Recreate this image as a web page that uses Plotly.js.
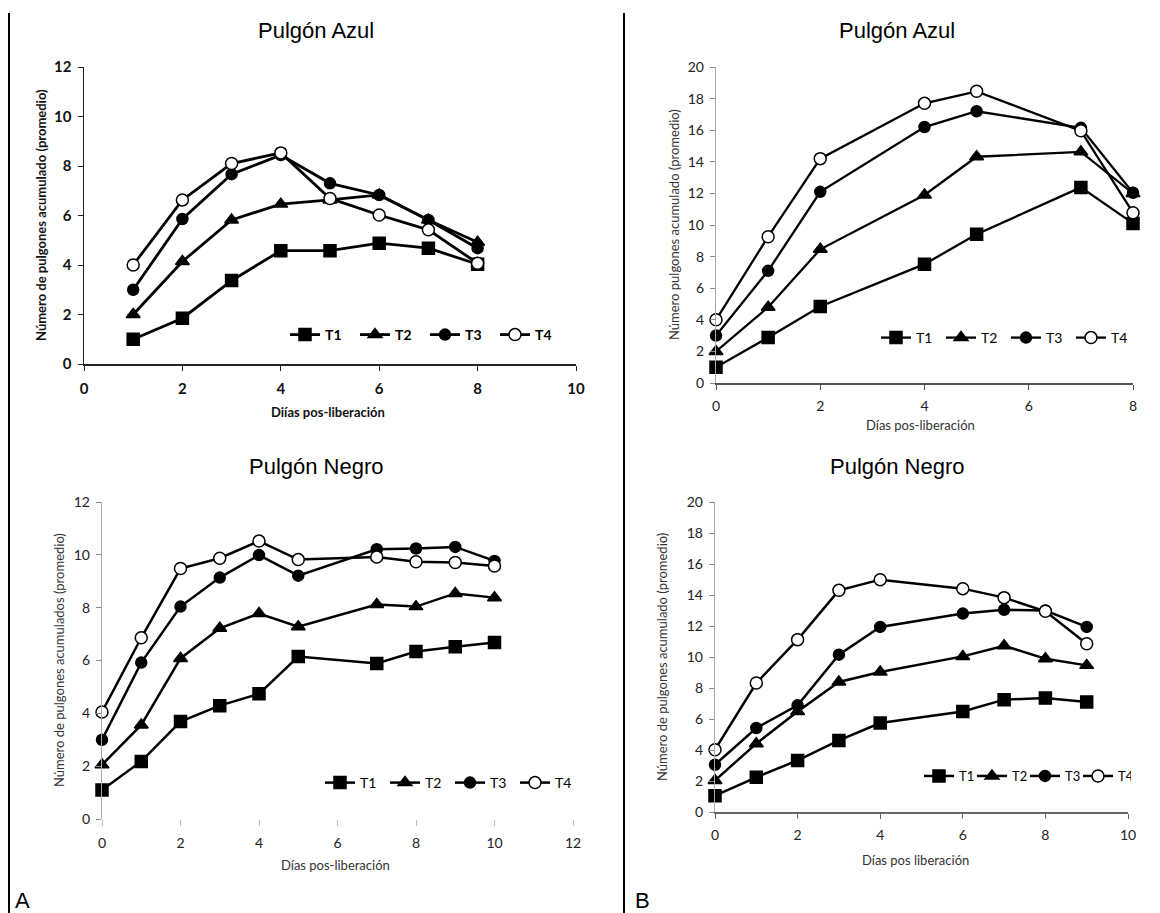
<!DOCTYPE html>
<html>
<head>
<meta charset="utf-8">
<script src="https://cdn.plot.ly/plotly-3.0.1.min.js"></script>
<style>html,body{margin:0;padding:0;background:#fff;}#chart{width:1160px;height:913px;}</style>
</head>
<body>
<div id="chart"></div>
<script>
// ---- Data ----
const seriesNames = ["T1", "T2", "T3", "T4"];

// A - Pulgón Azul
const aAzulDays = [1, 2, 3, 4, 5, 6, 7, 8];
const aAzulT1 = [1.0, 1.85, 3.37, 4.58, 4.58, 4.88, 4.68, 4.03];
const aAzulT2 = [2.0, 4.14, 5.82, 6.46, 6.63, 6.83, 5.82, 4.92];
const aAzulT3 = [3.0, 5.86, 7.67, 8.44, 7.30, 6.83, 5.82, 4.68];
const aAzulT4 = [4.0, 6.63, 8.10, 8.53, 6.69, 6.02, 5.42, 4.07];

// B - Pulgón Azul
const bAzulDays = [0, 1, 2, 4, 5, 7, 8];
const bAzulT1 = [1.0, 2.88, 4.84, 7.52, 9.41, 12.38, 10.1];
const bAzulT2 = [2.0, 4.8, 8.46, 11.9, 14.32, 14.63, 12.0];
const bAzulT3 = [3.0, 7.1, 12.1, 16.2, 17.2, 16.15, 12.04];
const bAzulT4 = [4.0, 9.26, 14.2, 17.7, 18.46, 15.96, 10.78];

// A - Pulgón Negro
const aNegroDays = [0, 1, 2, 3, 4, 5, 7, 8, 9, 10];
const aNegroT1 = [1.1, 2.18, 3.69, 4.29, 4.74, 6.15, 5.89, 6.34, 6.52, 6.68];
const aNegroT2 = [2.05, 3.56, 6.08, 7.22, 7.78, 7.28, 8.12, 8.04, 8.54, 8.38];
const aNegroT3 = [3.0, 5.92, 8.04, 9.14, 9.99, 9.21, 10.21, 10.24, 10.3, 9.77];
const aNegroT4 = [4.05, 6.86, 9.48, 9.87, 10.52, 9.82, 9.92, 9.74, 9.71, 9.58];

// B - Pulgón Negro
const bNegroDays = [0, 1, 2, 3, 4, 6, 7, 8, 9];
const bNegroT1 = [1.05, 2.24, 3.33, 4.62, 5.74, 6.49, 7.25, 7.35, 7.1];
const bNegroT2 = [2.04, 4.41, 6.49, 8.39, 9.03, 10.04, 10.73, 9.89, 9.46];
const bNegroT3 = [3.05, 5.42, 6.88, 10.15, 11.94, 12.8, 13.05, 13.0, 11.94];
const bNegroT4 = [4.02, 8.32, 11.12, 14.3, 14.99, 14.41, 13.83, 12.95, 10.86];

const titles = ["Pulgón Azul", "Pulgón Azul", "Pulgón Negro", "Pulgón Negro"];
const xTitles = ["Diías pos-liberación", "Días pos-liberación", "Días pos-liberación", "Días pos liberación"];
const yTitles = ["Número de pulgones acumulado (promedio)", "Número pulgones acumulado (promedio)",
                 "Número de pulgones acumulados (promedio)", "Número de pulgones acumulado (promedio)"];
const panelLetters = ["A", "B"];

// ---- Build ----
const W = 1160, H = 913;
const px = v => v / W;
const py = v => 1 - v / H;

const symbols = ["square", "triangle-up", "circle", "circle"];
const fills = ["#000", "#000", "#000", "#fff"];
const sizes = [12, 12, 11, 12];

const panels = [
  {days: aAzulDays, ys: [aAzulT1, aAzulT2, aAzulT3, aAzulT4], xa: "x", ya: "y", leg: "legend", lw: 2.8},
  {days: bAzulDays, ys: [bAzulT1, bAzulT2, bAzulT3, bAzulT4], xa: "x2", ya: "y2", leg: "legend2", lw: 2.3},
  {days: aNegroDays, ys: [aNegroT1, aNegroT2, aNegroT3, aNegroT4], xa: "x3", ya: "y3", leg: "legend3", lw: 2.5},
  {days: bNegroDays, ys: [bNegroT1, bNegroT2, bNegroT3, bNegroT4], xa: "x4", ya: "y4", leg: "legend4", lw: 2.5}
];

const traces = [];
panels.forEach(p => {
  p.ys.forEach((ys, i) => {
    traces.push({
      type: "scatter", mode: "lines+markers",
      x: p.days, y: ys, name: seriesNames[i],
      xaxis: p.xa, yaxis: p.ya, legend: p.leg,
      cliponaxis: false,
      line: {color: "#000", width: p.lw},
      marker: {symbol: symbols[i], size: sizes[i], color: fills[i], line: {color: "#000", width: 1.5}}
    });
  });
});

const FONT = "Lato, 'Open Sans', sans-serif";
const tickFontReg = {family: FONT, size: 14, color: "#222"};
const tickFontBold = {family: FONT, size: 15, color: "#111", weight: "bold"};

function xaxis(dom, range, dtick, anchor, opts) {
  return Object.assign({
    domain: dom, range: range, dtick: dtick, anchor: anchor,
    showgrid: false, zeroline: false, showline: true, linecolor: "#888", linewidth: 1.5,
    ticks: "outside", ticklen: 5, tickcolor: "#888", tickfont: tickFontReg, ticklabelstandoff: 5,
    fixedrange: true, automargin: false
  }, opts || {});
}
function yaxis(dom, range, dtick, anchor, opts) {
  return Object.assign({
    domain: dom, range: range, dtick: dtick, anchor: anchor,
    showgrid: false, zeroline: false, showline: true, linecolor: "#aaa", linewidth: 1.2,
    ticks: "outside", ticklen: 5, tickcolor: "#888", tickfont: tickFontReg, ticklabelstandoff: 3,
    fixedrange: true, automargin: false
  }, opts || {});
}

const axTitleFont = {family: FONT, size: 13, color: "#333"};
const axTitleFontBold = {family: FONT, size: 13, color: "#111", weight: "bold"};

function legendCfg(x, y, ew, bold, size) {
  return {orientation: "h", x: px(x), y: py(y), xanchor: "left", yanchor: "middle",
    entrywidth: ew, entrywidthmode: "pixels", bgcolor: "rgba(0,0,0,0)", tracegroupgap: 0,
    font: {family: FONT, size: size, color: "#000", weight: bold ? "bold" : "normal"}};
}

function ann(text, x, y, font, extra) {
  return Object.assign({text: text, x: px(x), y: py(y), xref: "paper", yref: "paper", showarrow: false,
    xanchor: "center", yanchor: "middle", font: font}, extra || {});
}
const titleFont = {family: "'Liberation Sans', Arial, sans-serif", size: 22, color: "#000"};

const layout = {
  width: W, height: H,
  margin: {l: 0, r: 0, t: 0, b: 0, autoexpand: false},
  paper_bgcolor: "#fff", plot_bgcolor: "rgba(0,0,0,0)",
  showlegend: true,
  xaxis: xaxis([px(84), px(576)], [0, 10], 2, "y", {linecolor: "#222", tickcolor: "#222", tickfont: tickFontBold}),
  yaxis: yaxis([py(364), py(67)], [0, 12], 2, "x", {linecolor: "#222", tickcolor: "#222", linewidth: 1.5, tickfont: tickFontBold}),
  xaxis2: xaxis([px(716), px(1133)], [0, 8], 2, "y2", {linecolor: "#555", tickcolor: "#555"}),
  yaxis2: yaxis([py(383), py(67)], [0, 20], 2, "x2", {}),
  xaxis3: xaxis([px(102), px(573)], [0, 12], 2, "y3", {showline: false, tickcolor: "#bbb", ticklen: 6}),
  yaxis3: yaxis([py(819), py(502)], [0, 12], 2, "x3", {}),
  xaxis4: xaxis([px(715), px(1128)], [0, 10], 2, "y4", {linecolor: "#666", tickcolor: "#666"}),
  yaxis4: yaxis([py(812), py(502)], [0, 20], 2, "x4", {}),
  legend: legendCfg(285, 335, 25, true, 14),
  legend2: legendCfg(876, 338, 20, false, 14),
  legend3: legendCfg(320, 783, 20, false, 14),
  legend4: legendCfg(919, 776, 8, false, 13),
  annotations: [
    ann(titles[0], 316, 30, titleFont),
    ann(titles[1], 897, 30, titleFont),
    ann(titles[2], 316, 466, titleFont),
    ann(titles[3], 897, 466, titleFont),
    ann(xTitles[0], 328, 412, axTitleFontBold),
    ann(xTitles[1], 920, 425, axTitleFont),
    ann(xTitles[2], 335, 865, axTitleFont),
    ann(xTitles[3], 915, 860, axTitleFont),
    ann(yTitles[0], 41, 215, axTitleFontBold, {textangle: -90}),
    ann(yTitles[1], 674, 225, axTitleFont, {textangle: -90}),
    ann(yTitles[2], 59, 660, axTitleFont, {textangle: -90}),
    ann(yTitles[3], 662, 657, axTitleFont, {textangle: -90}),
    ann(panelLetters[0], 13, 900, titleFont, {xanchor: "left"}),
    ann(panelLetters[1], 633, 900, titleFont, {xanchor: "left"})
  ],
  shapes: [
    {type: "line", xref: "paper", yref: "paper", x0: px(9), x1: px(9), y0: py(13), y1: 0, line: {color: "#000", width: 2}},
    {type: "line", xref: "paper", yref: "paper", x0: px(624), x1: px(624), y0: py(13), y1: 0, line: {color: "#000", width: 2}}
  ]
};

Plotly.newPlot("chart", traces, layout, {displayModeBar: false, staticPlot: true});
</script>
</body>
</html>
